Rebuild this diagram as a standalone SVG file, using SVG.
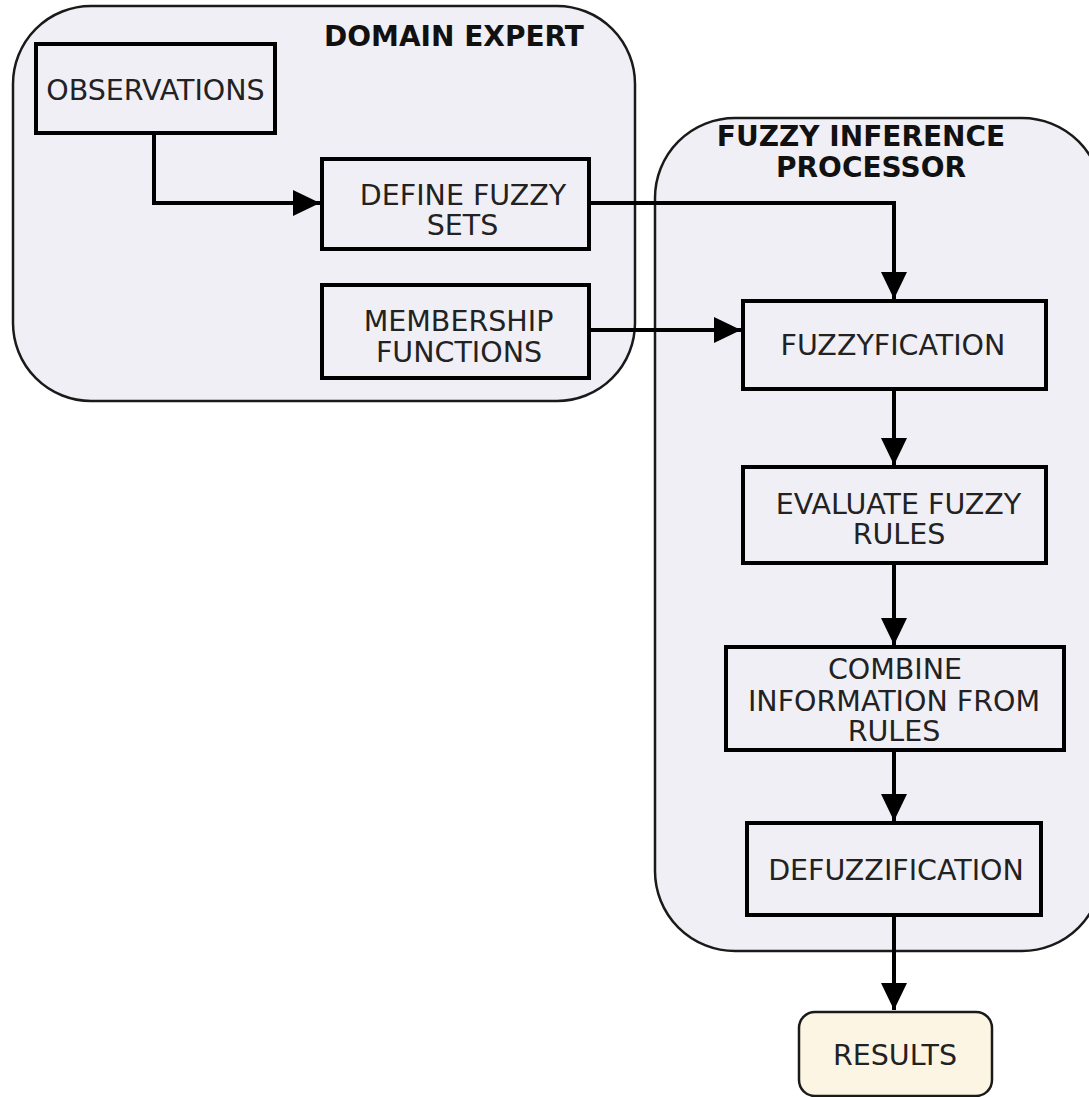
<svg xmlns="http://www.w3.org/2000/svg" width="1089" height="1097" viewBox="0 0 1089 1097">
<style>
.container{fill:#f1eff6;stroke:#1a1a1a;stroke-width:2.5}
.box{fill:#f1eff6;stroke:#000;stroke-width:4}
.result{fill:#fdf5e3;stroke:#1a1a1a;stroke-width:2.5}
.lbl{font-family:"DejaVu Sans",Verdana,sans-serif;font-size:28.5px;fill:#222;text-anchor:middle}
.title{font-family:"DejaVu Sans",Verdana,sans-serif;font-size:28px;font-weight:bold;fill:#111;text-anchor:middle}
.conn{fill:none;stroke:#000;stroke-width:4}
</style>
<defs>
<marker id="arrow" markerUnits="userSpaceOnUse" markerWidth="27" markerHeight="26" refX="27" refY="13" orient="auto">
<path d="M0,0 L27,13 L0,26 Z" fill="#000"/>
</marker>
</defs>
<rect width="1089" height="1097" fill="#fff"/>

<g id="domain-expert">
<rect class="container" x="13" y="6" width="622" height="395" rx="78" ry="78"/>
<text class="title" x="454" y="46">DOMAIN EXPERT</text>
</g>

<g id="fuzzy-inference-processor">
<rect class="container" x="655" y="118" width="447" height="833" rx="80" ry="80"/>
<text class="title" x="861" y="146">FUZZY INFERENCE</text>
<text class="title" x="871" y="177">PROCESSOR</text>
</g>

<g id="observations">
<rect class="box" x="36" y="44" width="239" height="89"/>
<text class="lbl" x="155.5" y="100">OBSERVATIONS</text>
</g>

<g id="define-fuzzy-sets">
<rect class="box" x="322" y="159" width="267" height="90"/>
<text class="lbl" x="463" y="205">DEFINE FUZZY</text>
<text class="lbl" x="462.5" y="235">SETS</text>
</g>

<g id="membership-functions">
<rect class="box" x="322" y="285" width="267" height="93"/>
<text class="lbl" x="458.5" y="331">MEMBERSHIP</text>
<text class="lbl" x="459" y="362">FUNCTIONS</text>
</g>

<g id="fuzzyfication">
<rect class="box" x="743" y="301" width="303" height="88"/>
<text class="lbl" x="893" y="355">FUZZYFICATION</text>
</g>

<g id="evaluate-fuzzy-rules">
<rect class="box" x="743" y="467" width="303" height="96"/>
<text class="lbl" x="898.5" y="514">EVALUATE FUZZY</text>
<text class="lbl" x="899" y="544">RULES</text>
</g>

<g id="combine-information">
<rect class="box" x="726" y="647" width="338" height="103"/>
<text class="lbl" x="895" y="679">COMBINE</text>
<text class="lbl" x="894" y="711">INFORMATION FROM</text>
<text class="lbl" x="894" y="741">RULES</text>
</g>

<g id="defuzzification">
<rect class="box" x="747" y="823" width="294" height="92"/>
<text class="lbl" x="896" y="880">DEFUZZIFICATION</text>
</g>

<g id="results">
<rect class="result" x="799" y="1012" width="193" height="84" rx="16" ry="16"/>
<text class="lbl" x="895" y="1065">RESULTS</text>
</g>

<g id="connectors">
<path class="conn" d="M154,133 V203 H320" marker-end="url(#arrow)"/>
<path class="conn" d="M589,203 H894 V299" marker-end="url(#arrow)"/>
<path class="conn" d="M589,330 H741" marker-end="url(#arrow)"/>
<path class="conn" d="M894,389 V465" marker-end="url(#arrow)"/>
<path class="conn" d="M894,563 V645" marker-end="url(#arrow)"/>
<path class="conn" d="M894,750 V821" marker-end="url(#arrow)"/>
<path class="conn" d="M894,915 V1010" marker-end="url(#arrow)"/>
</g>
</svg>
